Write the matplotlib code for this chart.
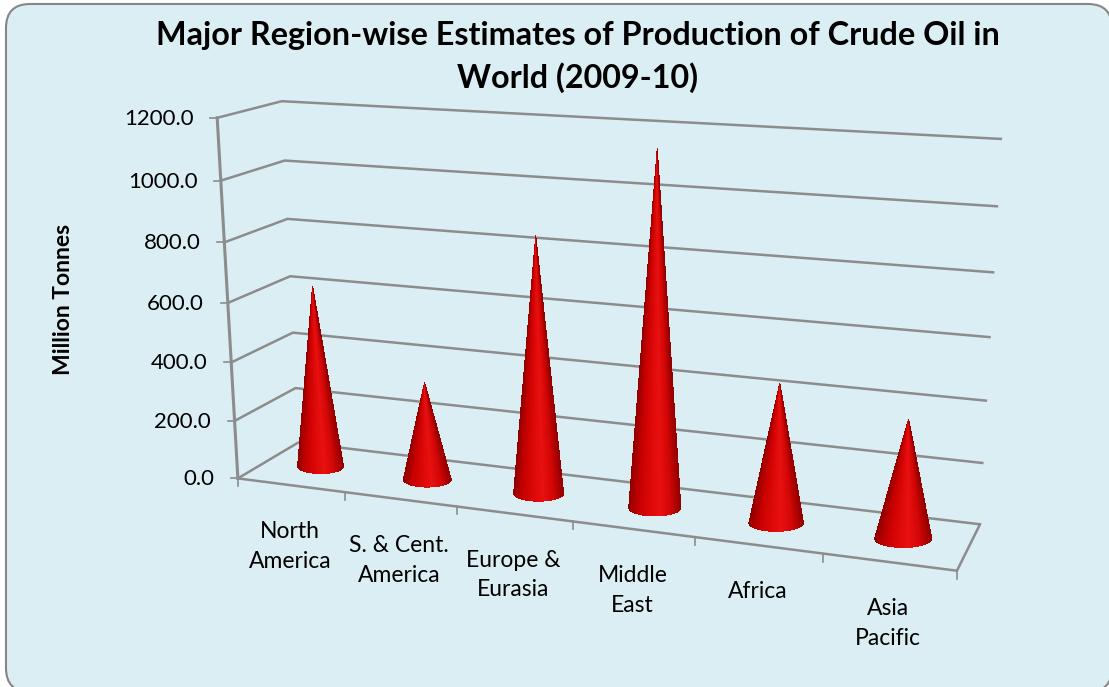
import numpy as np
import matplotlib
matplotlib.use("Agg")
import matplotlib.pyplot as plt
from matplotlib.collections import PolyCollection
from matplotlib.colors import LinearSegmentedColormap
from matplotlib.patches import FancyBboxPatch

# data
categories = ["North\nAmerica", "S. & Cent.\nAmerica", "Europe &\nEurasia", "Middle\nEast", "Africa", "Asia\nPacific"]
production = [630.0, 338.0, 855.0, 1150.0, 455.0, 382.0]
y_ticks = [0, 200, 400, 600, 800, 1000, 1200]
y_labels = ["0.0", "200.0", "400.0", "600.0", "800.0", "1000.0", "1200.0"]

plt.rcParams["font.family"] = ["Lato", "DejaVu Sans"]

fig = plt.figure(figsize=(11.09, 6.87), dpi=100, facecolor="white")
ax = fig.add_axes([0, 0, 1, 1])
ax.set_xlim(0, 1109)
ax.set_ylim(687, 0)
ax.axis("off")

# chart area
ax.add_patch(FancyBboxPatch((6, 4), 1106, 688, boxstyle="round,pad=0,rounding_size=24",
                            fc="#DBEEF4", ec="#868686", lw=1.5))

# fit the perspective of the 3d box: (category, depth, value) -> picture
box_world = [(0, 0, 0), (6, 0, 0), (0, 1, 0), (6, 1, 0), (0, 0, 1200), (0, 1, 1200), (6, 1, 1200)]
box_pixel = [(238, 478), (957, 571), (298, 443), (980, 524), (217, 118), (282, 101), (1002, 139)]
A, b = [], []
for (u, v, z), (px, py) in zip(box_world, box_pixel):
    A.append([u, v, z, 1, 0, 0, 0, 0, -px * u, -px * v, -px * z])
    A.append([0, 0, 0, 0, u, v, z, 1, -py * u, -py * v, -py * z])
    b += [px, py]
p = np.linalg.lstsq(np.array(A, float), np.array(b, float), rcond=None)[0]
P = np.append(p, 1).reshape(3, 4)


def project(u, v, z):
    x, y, w = P @ np.array([u, v, z, 1.0])
    return x / w, y / w


grey = "#8C8C8C"
# walls
for t in y_ticks:
    pts = [project(0, 0, t), project(0, 1, t), project(6, 1, t)]
    ax.plot(*zip(*pts), color=grey, lw=1.8, solid_capstyle="butt", zorder=2)
ax.plot(*zip(project(0, 0, 0), project(0, 0, 1200)), color=grey, lw=2.2, zorder=2)
# floor
pts = [project(0, 0, 0), project(6, 0, 0), project(6, 1, 0)]
ax.plot(*zip(*pts), color=grey, lw=1.8, zorder=2)

# value ticks and labels
for t, lab in zip(y_ticks, y_labels):
    x, y = project(0, 0, t)
    ax.plot([x - 7, x], [y, y], color=grey, lw=1.2, zorder=2)
    ax.text(194 + 20 * (1 - t / 1200), y + 1, lab, ha="right", va="center", fontsize=16, color="black")

# category ticks and labels
for i in range(7):
    x, y = project(i, 0, 0)
    ax.plot([x, x], [y, y + 8], color=grey, lw=1.2, zorder=2)
for i, lab in enumerate(categories):
    x, y = project(i + 0.5, 0, 0)
    ax.text(x - 1, y + 36, lab, ha="center", va="top", fontsize=16.5, linespacing=1.5, color="black")

# cones
cone_cmap = LinearSegmentedColormap.from_list(
    "cone", ["#900000", "#C80000", "#DC0808", "#E81010", "#D40606", "#960000"])
theta = np.linspace(0, np.pi, 181)
for i, val in enumerate(production):
    cx, cy = project(i + 0.5, 0.5, 0)
    tx, ty = project(i + 0.5, 0.5, val)
    x0, _ = project(i + 0.5 - 0.22, 0.5, 0)
    x1, _ = project(i + 0.5 + 0.22, 0.5, 0)
    rx = (x1 - x0) / 2
    ry = 0.31 * rx
    ex = cx - rx * np.cos(theta)
    ey = cy + ry * np.sin(theta)
    polys = [[(tx, ty), (ex[k], ey[k]), (ex[k + 1], ey[k + 1])] for k in range(len(theta) - 1)]
    shade = cone_cmap((ex[:-1] - cx + rx) / (2 * rx))
    ax.add_collection(PolyCollection(polys, facecolors=shade, edgecolors="none", antialiased=False, zorder=3))

# titles
ax.text(578, 57, "Major Region-wise Estimates of Production of Crude Oil in\nWorld (2009-10)",
        ha="center", va="center", fontsize=23.3, fontweight="bold", linespacing=1.5, color="black")
ax.text(63, 299, "Million Tonnes", rotation=90, ha="center", va="center", fontsize=16.5,
        fontweight="bold", color="black")

fig.savefig("out.png", dpi=100)
